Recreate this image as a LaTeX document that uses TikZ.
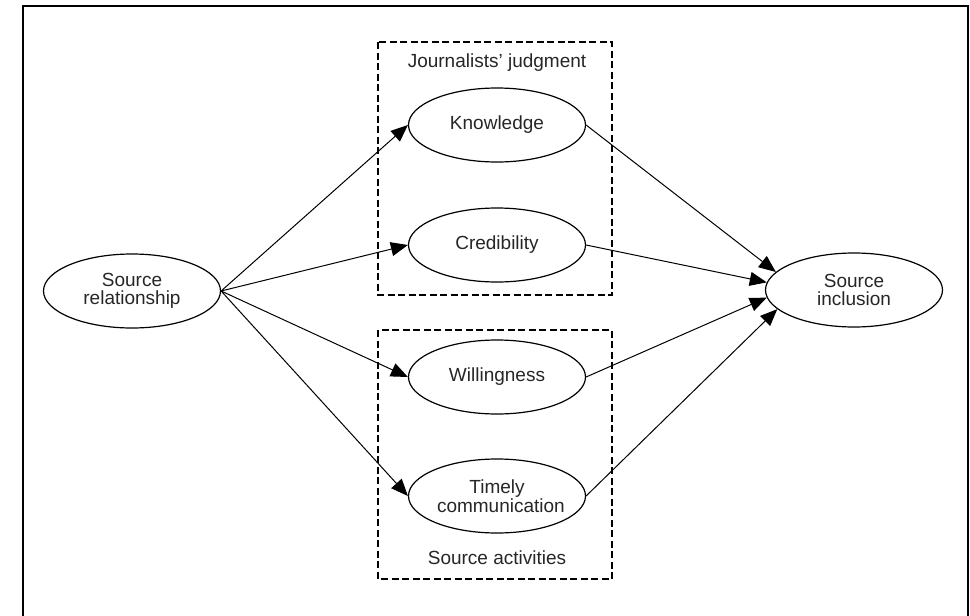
\documentclass[tikz,border=0pt]{standalone}
\usepackage{fontspec}
\setmainfont{Liberation Sans}
\usetikzlibrary{shapes.geometric,arrows.meta}
\begin{document}
\begin{tikzpicture}[x=1pt,y=-1pt,
  oval/.style={draw, ellipse, line width=1.2pt, minimum width=177pt, minimum height=74pt,
    inner sep=0pt, text width=120pt, align=center, text=black!85,
    font=\fontsize{19}{17.5}\selectfont},
  link/.style={draw, line width=1pt, -{Triangle[length=17pt,width=14pt]}},
  grp/.style={draw, dash pattern=on 7pt off 3.5pt, line width=1.2pt},
  lbl/.style={font=\fontsize{19}{17.5}\selectfont, inner sep=0pt, text=black!85}]
\useasboundingbox (0,0) rectangle (970,616);
% outer frame (open at bottom)
\draw[line width=2pt] (23,616) -- (23,6) -- (968,6) -- (968,616);
% group boxes
\draw[grp] (378,42) rectangle (612,295);
\draw[grp] (378,330) rectangle (612,579);
\node[lbl] (jj) at (497,63) {Journalists’ judgment};
\node[lbl] (sa) at (497,558) {Source activities};
% nodes
\node[oval] (rel) at (132,291) {Source\\relationship};
\node[oval] (kno) at (497,125) {Knowledge};
\node[oval] (cre) at (497,245) {Credibility};
\node[oval] (wil) at (497,377) {Willingness};
\node[oval] (tim) at (497,496) {Timely\\communication};
\node[oval] (inc) at (854,290) {Source\\inclusion};
% connectors
\draw[link] (rel.east) -- (kno.west);
\draw[link] (rel.east) -- (cre.west);
\draw[link] (rel.east) -- (wil.west);
\draw[link] (rel.east) -- (tim.west);
\draw[link] (kno.east) -- (inc.167);
\draw[link] (cre.east) -- (inc.175);
\draw[link] (wil.east) -- (inc.185);
\draw[link] (tim.east) -- (inc.194);
\end{tikzpicture}
\end{document}
